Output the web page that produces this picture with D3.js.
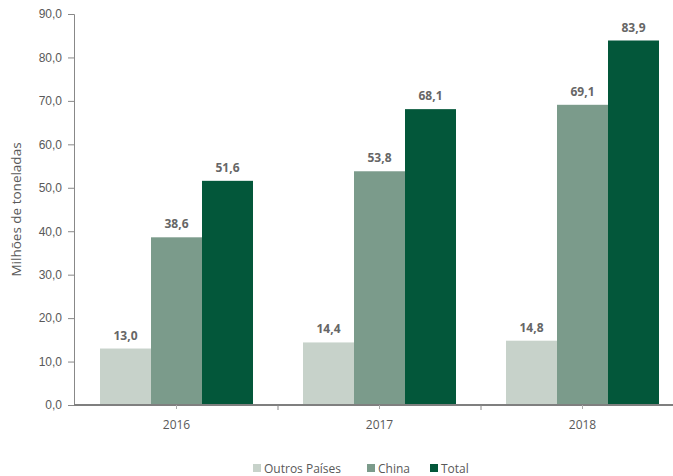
<!DOCTYPE html>
<html>
<head>
<meta charset="utf-8">
<script src="https://cdn.jsdelivr.net/npm/d3@7"></script>
<style>
  html, body { margin: 0; padding: 0; background: #fff; }
  svg { display: block; font-family: "Open Sans", "Noto Sans", sans-serif; }
</style>
</head>
<body>
<svg id="chart" width="673" height="476"></svg>
<script>
// Exportações em milhões de toneladas, por ano e destino
const years = ["2016", "2017", "2018"];
const seriesNames = ["Outros Países", "China", "Total"];
const outros = [13.0, 14.4, 14.8];
const china = [38.6, 53.8, 69.1];
const total = [51.6, 68.1, 83.9];
const yTicks = [0, 10, 20, 30, 40, 50, 60, 70, 80, 90];
const colors = ["#c7d2ca", "#7b9b8b", "#03573a"];

const seriesValues = [outros, china, total];
const fmt = v => d3.format(".1f")(v).replace(".", ",");

const svg = d3.select("#chart");
const plotLeft = 74, plotRight = 684, plotTop = 14, plotBottom = 405;

const x = d3.scaleBand().domain(years).range([plotLeft + 1, plotRight]).paddingInner(0).paddingOuter(0);
const xs = d3.scaleBand().domain(seriesNames).range([0, x.bandwidth()]).paddingInner(0).paddingOuter(25 / 51);
const y = d3.scaleLinear().domain([0, 90]).range([plotBottom, plotTop]);

// Eixo Y
const yAxis = svg.append("g").attr("transform", `translate(${plotLeft},0)`)
  .call(d3.axisLeft(y).tickValues(yTicks).tickFormat(fmt).tickSize(6).tickPadding(6));
yAxis.select(".domain").attr("stroke", "#888").attr("stroke-width", 1);
yAxis.selectAll(".tick line").attr("stroke", "#888");
yAxis.selectAll(".tick text").attr("fill", "#595959").style("font-size", "12px");

svg.append("text")
  .attr("transform", `translate(21,${(plotTop + plotBottom) / 2}) rotate(-90)`)
  .attr("text-anchor", "middle")
  .attr("fill", "#595959")
  .style("font-size", "13.5px")
  .text("Milhões de toneladas");

// Barras
const groups = svg.append("g").selectAll("g").data(years).join("g")
  .attr("transform", d => `translate(${x(d)},0)`);

seriesNames.forEach((name, si) => {
  groups.append("rect")
    .attr("x", xs(name))
    .attr("width", xs.bandwidth())
    .attr("y", (d, i) => y(seriesValues[si][i]))
    .attr("height", (d, i) => plotBottom - y(seriesValues[si][i]))
    .attr("fill", colors[si]);
  groups.append("text")
    .attr("x", xs(name) + xs.bandwidth() / 2)
    .attr("y", (d, i) => y(seriesValues[si][i]) - 9)
    .attr("text-anchor", "middle")
    .attr("fill", "#666")
    .style("font-size", "12px")
    .style("font-weight", "bold")
    .text((d, i) => fmt(seriesValues[si][i]));
});

// Eixo X
const xAxisG = svg.append("g").attr("transform", `translate(0,${plotBottom})`);
xAxisG.append("line").attr("x1", plotLeft).attr("x2", 673).attr("y1", 0).attr("y2", 0)
  .attr("stroke", "#7f7f7f").attr("stroke-width", 2);
const bounds = years.map(d => x(d)).slice(1);
xAxisG.selectAll("line.b").data(bounds).join("line").attr("class", "b")
  .attr("x1", d => d).attr("x2", d => d).attr("y1", 0).attr("y2", 5)
  .attr("stroke", "#888");
xAxisG.selectAll("line.c").data(years).join("line").attr("class", "c")
  .attr("x1", d => x(d) + x.bandwidth() / 2).attr("x2", d => x(d) + x.bandwidth() / 2)
  .attr("y1", 0).attr("y2", 4).attr("stroke", "#aaa");
xAxisG.selectAll("text").data(years).join("text")
  .attr("x", d => x(d) + x.bandwidth() / 2)
  .attr("y", 24)
  .attr("text-anchor", "middle")
  .attr("fill", "#595959")
  .style("font-size", "12px")
  .text(d => d);

// Legenda
const legendX = [253, 367, 430];
const legend = svg.append("g").selectAll("g").data(seriesNames).join("g")
  .attr("transform", (d, i) => `translate(${legendX[i]},464)`);
legend.append("rect").attr("width", 8).attr("height", 8).attr("fill", (d, i) => colors[i]);
legend.append("text").attr("x", 11).attr("y", 8.5)
  .attr("fill", "#595959").style("font-size", "12px").text(d => d);
</script>
</body>
</html>
